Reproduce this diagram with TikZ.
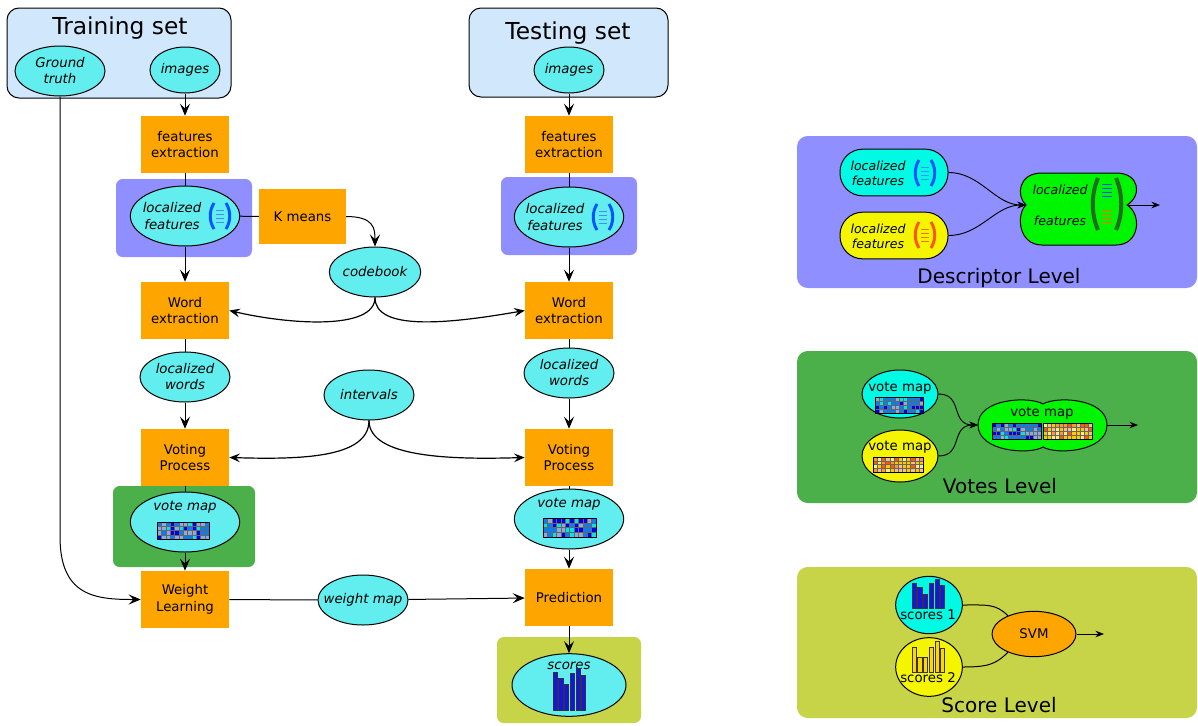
\documentclass[tikz,border=0pt]{standalone}
\usepackage{fontspec}
\setmainfont{DejaVu Sans}
\usetikzlibrary{arrows.meta,shapes.geometric}

\definecolor{setblue}{RGB}{209,231,252}
\definecolor{procorange}{RGB}{255,165,0}
\definecolor{datacyan}{RGB}{98,238,238}
\definecolor{descblue}{RGB}{143,143,255}
\definecolor{votegreen}{RGB}{76,176,74}
\definecolor{scoreolive}{RGB}{200,212,72}
\definecolor{aqua}{RGB}{0,250,228}
\definecolor{lemon}{RGB}{245,245,0}
\definecolor{lime}{RGB}{0,245,0}
\definecolor{parblue}{RGB}{0,85,255}
\definecolor{lineblue}{RGB}{70,140,255}
\definecolor{parred}{RGB}{255,85,0}
\definecolor{linered}{RGB}{255,110,0}
\definecolor{pargreen}{RGB}{30,110,30}
\definecolor{barblue}{RGB}{20,20,230}
\definecolor{bargold}{RGB}{255,215,0}
\definecolor{vca}{RGB}{0,0,235}
\definecolor{vcb}{RGB}{0,128,255}
\definecolor{vcc}{RGB}{140,170,220}
\definecolor{vcd}{RGB}{0,230,230}
\definecolor{wca}{RGB}{255,200,0}
\definecolor{wcb}{RGB}{255,150,50}
\definecolor{wcc}{RGB}{245,190,140}
\definecolor{wcd}{RGB}{255,90,0}
\definecolor{wce}{RGB}{255,235,140}

\pgfmathdeclarerandomlist{coldmap}{{vca}{vcb}{vcb}{vcc}{vca}{vcd}{vcc}{vcb}}
\pgfmathdeclarerandomlist{warmmap}{{wca}{wcb}{wcc}{wcd}{wce}{wca}}

\tikzset{
  setbox/.style={draw, fill=setblue, rounded corners=9pt, line width=0.75pt},
  settitle/.style={anchor=base, inner sep=0pt, font=\fontsize{17.5}{20}\selectfont},
  proc/.style={fill=procorange, minimum width=66pt, minimum height=42.75pt, align=center, inner sep=1pt, font=\fontsize{10}{12.5}\selectfont},
  dataell/.style={ellipse, draw, fill=datacyan, line width=0.75pt, inner sep=0pt, align=center, minimum width=67.5pt, minimum height=37.5pt, font=\fontsize{10}{12}\selectfont\itshape},
  datatxt/.style={align=center, inner sep=0pt, font=\fontsize{10}{12.5}\selectfont\itshape},
  mixnode/.style={draw, line width=0.75pt, inner sep=0pt},
  smalltxt/.style={align=center, inner sep=0pt, font=\fontsize{9.4}{11.3}\selectfont\itshape},
  plaintxt/.style={inner sep=0pt, font=\fontsize{10}{12}\selectfont},
  lvl/.style={anchor=base, inner sep=0pt, font=\fontsize{15}{18}\selectfont},
  wire/.style={line width=0.75pt},
  flow/.style={line width=0.75pt, -{Stealth[length=9pt,width=7.5pt,inset=3.5pt]}},
  twoway/.style={line width=0.9pt, -{Stealth[length=8pt,width=6.5pt,inset=3pt]}},
  tomix/.style={line width=0.7pt, -{Stealth[length=6.5pt,width=5pt,inset=2.2pt]}},
}

\newcommand{\fvec}[3]{%
  \begin{scope}[shift={#1}]
    \draw[#2, line width=2.2pt] (-6,-13) .. controls (-11,-5) and (-11,5) .. (-6,13);
    \draw[#2, line width=2.2pt] (6,-13) .. controls (11,-5) and (11,5) .. (6,13);
    \foreach \fy in {-6,-2,2,6} \draw[#3, line width=0.7pt] (-4,\fy) -- (4,\fy);
  \end{scope}}

\newcommand{\votegrid}[5]{%
  \foreach \gi in {0,...,11}{
    \foreach \gj in {0,...,3}{
      \pgfmathrandomitem{\cellcol}{#5}
      \fill[\cellcol] ({#1+\gi*#3/12},{#2+\gj*#4/4}) rectangle ++({#3/12},{#4/4});
    }}
  \foreach \gi in {1,...,11} \draw[black!60, line width=0.2pt] ({#1+\gi*#3/12},#2) -- ++(0,#4);
  \foreach \gj in {1,...,3} \draw[black!60, line width=0.2pt] (#1,{#2+\gj*#4/4}) -- ++(#3,0);
  \draw[line width=0.5pt] (#1,#2) rectangle ++(#3,#4);}

\newcommand{\bars}[4]{%
  \foreach \bh [count=\bi] in {#4}
    \draw[fill=#3, draw=black!80, line width=0.4pt] ({#1+(\bi-1)*5.7},#2) rectangle ++(4.1,{-\bh});}

\begin{document}
\begin{tikzpicture}[x=0.75pt, y=-0.75pt]
\pgfmathsetseed{11}
\useasboundingbox (0,0) rectangle (1198,725);

\fill[descblue, rounded corners=5pt] (116,179) rectangle (252,257);
\fill[descblue, rounded corners=5pt] (501,177) rectangle (637,255);
\fill[votegreen, rounded corners=5pt] (113,486) rectangle (255,567);
\fill[scoreolive, rounded corners=5pt] (497,637) rectangle (641,723);
\fill[descblue, rounded corners=8pt] (797,136) rectangle (1197,288);
\fill[votegreen, rounded corners=8pt] (797,351) rectangle (1197,503);
\fill[scoreolive, rounded corners=8pt] (797,567) rectangle (1197,718);

\draw[setbox] (7,8) rectangle (231,98);
\draw[setbox] (469,8) rectangle (668,97);
\draw (120,34) node (01) [settitle] {Training set};
\draw (568,39) node (03) [settitle] {Testing set};

\draw (60,71) node (10) [dataell] {Ground\\truth};
\draw (185,70) node (11) [dataell, minimum width=52.5pt, minimum height=34.5pt] {images};
\draw (569,70) node (13) [dataell, minimum width=52.5pt, minimum height=34.5pt] {images};

\draw (185,144.5) node (21) [proc] {features\\extraction};
\draw (569,144.5) node (23) [proc] {features\\extraction};

\draw (185,216) node (31) [dataell, minimum width=82pt, minimum height=45pt] {};
\draw (172,216) node (31a) [datatxt] {localized\\features};
\fvec{(220,216)}{parblue}{lineblue}
\draw (302.5,216.5) node (32) [proc, minimum width=65pt, minimum height=41pt] {K means};
\draw (569,217) node (33) [dataell, minimum width=82pt, minimum height=45pt] {};
\draw (555,217) node (33a) [datatxt] {localized\\features};
\fvec{(603,217)}{parblue}{lineblue}

\draw (375,272) node (42) [dataell] {codebook};

\draw (185,310.5) node (51) [proc] {Word\\extraction};
\draw (569,310.5) node (53) [proc] {Word\\extraction};

\draw (185,377) node (61) [dataell] {localized\\words};
\draw (369,395) node (62) [dataell] {intervals};
\draw (569,373) node (63) [dataell] {localized\\words};

\draw (185,457.5) node (71) [proc] {Voting\\Process};
\draw (569,457.5) node (73) [proc] {Voting\\Process};

\draw (185,522) node (81) [dataell, minimum width=82pt, minimum height=45pt] {};
\draw (185,507) node (81a) [datatxt] {vote map};
\votegrid{157}{522}{52}{17}{coldmap}
\draw (569,519) node (83) [dataell, minimum width=82pt, minimum height=45pt] {};
\draw (569,504) node (83a) [datatxt] {vote map};
\votegrid{543}{518}{53}{19}{coldmap}

\draw (185,599.5) node (91) [proc] {Weight\\Learning};
\draw (363,600) node (92) [dataell, inner xsep=-6pt] {weight map};
\draw (569,597.5) node (93) [proc] {Prediction};

\draw (569,685) node (103) [dataell, minimum width=85.5pt, minimum height=47pt] {};
\draw (569,666) node (103a) [datatxt] {scores};
\bars{553}{710}{barblue}{38,32,26,37,42,35}

\draw[flow] (11) -- (21);
\draw[wire] (21) -- (31);
\draw[wire] (31) -- (32);
\draw[flow] (32.east) .. controls +(28,0) and +(0,-18) .. (42.north);
\draw[flow] (31) -- (51);
\draw[twoway] (42.south) .. controls +(0,33) and +(60,14) .. (51.east);
\draw[twoway] (42.south) .. controls +(0,33) and +(-80,14) .. (53.west);
\draw[wire] (51) -- (61);
\draw[flow] (61) -- (71);
\draw[twoway] (62.south) .. controls +(0,38) and +(70,2) .. (71.east);
\draw[twoway] (62.south) .. controls +(0,38) and +(-70,2) .. (73.west);
\draw[wire] (71) -- (81);
\draw[flow] (81) -- (91);
\draw[flow] (10.south) -- ++(0,440) .. controls +(0,60) and +(-45,0) .. (91.west);
\draw[wire] (91) -- (92);
\draw[flow] (92) -- (93);

\draw[flow] (13) -- (23);
\draw[wire] (23) -- (33);
\draw[flow] (33) -- (53);
\draw[wire] (53) -- (63);
\draw[flow] (63) -- (73);
\draw[wire] (73) -- (83);
\draw[flow] (83) -- (93);
\draw[flow] (93) -- (103);

\draw (894,172.5) node (d1) [mixnode, fill=aqua, minimum width=81pt, minimum height=35pt, rounded corners=17pt] {};
\draw (878,173) node (d1a) [smalltxt] {localized\\features};
\fvec{(925,173)}{parblue}{lineblue}
\draw (894,235.5) node (d2) [mixnode, fill=lemon, minimum width=81pt, minimum height=35pt, rounded corners=17pt] {};
\draw (878,236) node (d2a) [smalltxt] {localized\\features};
\fvec{(925,235)}{parred}{linered}
\draw[fill=lime, line width=0.75pt] (1026,205) .. controls (1016,196) and (1018,173) .. (1042,173) -- (1116,173)
  .. controls (1140,173) and (1142,196) .. (1127,205) .. controls (1142,214) and (1140,245) .. (1116,245)
  -- (1042,245) .. controls (1018,245) and (1016,214) .. (1026,205) -- cycle;
\draw (1060,194) node (d3a) [smalltxt, anchor=base] {localized};
\draw (1060,225) node (d3b) [smalltxt, anchor=base] {features};
\begin{scope}[shift={(1107,204)}]
  \draw[pargreen, line width=3pt] (-9,-26) .. controls (-16,-10) and (-16,10) .. (-9,26);
  \draw[pargreen, line width=3pt] (9,-26) .. controls (16,-10) and (16,10) .. (9,26);
  \foreach \fy in {-20,-16,-12,-8} \draw[parblue, line width=0.7pt] (-5,\fy) -- (5,\fy);
  \foreach \fy in {6,10,14,18} \draw[linered, line width=0.7pt] (-5,\fy) -- (5,\fy);
\end{scope}
\coordinate (d3) at (1026,205);
\coordinate (d4) at (1127,205);
\coordinate (d5) at (1160,205);
\draw[tomix] (d1.east) .. controls +(32,0) and +(-31,0) .. (d3);
\draw[tomix] (d2.east) .. controls +(32,0) and +(-31,0) .. (d3);
\draw[tomix] (d4) -- (d5);
\draw (999,283) node (dl) [lvl] {Descriptor Level};

\draw (900,394) node (v1) [mixnode, ellipse, fill=aqua, minimum width=57pt, minimum height=36pt] {};
\draw (900,388) node (v1a) [plaintxt] {vote map};
\votegrid{875}{397}{48}{16}{coldmap}
\draw (900,456) node (v2) [mixnode, ellipse, fill=lemon, minimum width=57pt, minimum height=39pt] {};
\draw (900,447) node (v2a) [plaintxt] {vote map};
\votegrid{873}{457}{50}{15}{warmmap}
\draw[fill=lime, line width=0.75pt] (1043,404) .. controls (1030,396) and (978,398) .. (978,425)
  .. controls (978,452) and (1030,455) .. (1043,447) .. controls (1056,455) and (1107,452) .. (1107,425)
  .. controls (1107,398) and (1056,396) .. (1043,404) -- cycle;
\draw (1042,413) node (v3a) [plaintxt] {vote map};
\votegrid{992}{423}{49}{16}{coldmap}
\votegrid{1043}{423}{49}{16}{warmmap}
\coordinate (v3) at (978,425);
\coordinate (v4) at (1107,425);
\coordinate (v5) at (1138,425);
\draw[tomix] (v1.east) .. controls +(25,0) and +(-28,0) .. (v3);
\draw[tomix] (v2.east) .. controls +(25,0) and +(-28,0) .. (v3);
\draw[tomix] (v4) -- (v5);
\draw (1000,493) node (vl) [lvl] {Votes Level};

\draw (929,605) node (s1) [mixnode, ellipse, fill=aqua, minimum width=50pt, minimum height=43pt] {};
\bars{912}{608}{barblue}{25,21,14,25,29,23}
\draw (928,615) node (s1a) [plaintxt] {scores 1};
\draw (929,667) node (s2) [mixnode, ellipse, fill=lemon, minimum width=50pt, minimum height=44pt] {};
\bars{912}{672}{bargold}{25,15,15,25,31,24}
\draw (928,678) node (s2a) [plaintxt] {scores 2};
\draw (1034,634) node (s3) [mixnode, ellipse, fill=procorange, minimum width=63pt, minimum height=34pt, font=\fontsize{10}{12}\selectfont] {SVM};
\coordinate (s4) at (1104,634);
\draw[wire] (s1.east) .. controls +(25,0) and +(-12,-12) .. (s3.145);
\draw[wire] (s2.east) .. controls +(25,0) and +(-12,12) .. (s3.215);
\draw[tomix] (s3) -- (s4);
\draw (999,712) node (sl) [lvl] {Score Level};

\end{tikzpicture}
\end{document}
